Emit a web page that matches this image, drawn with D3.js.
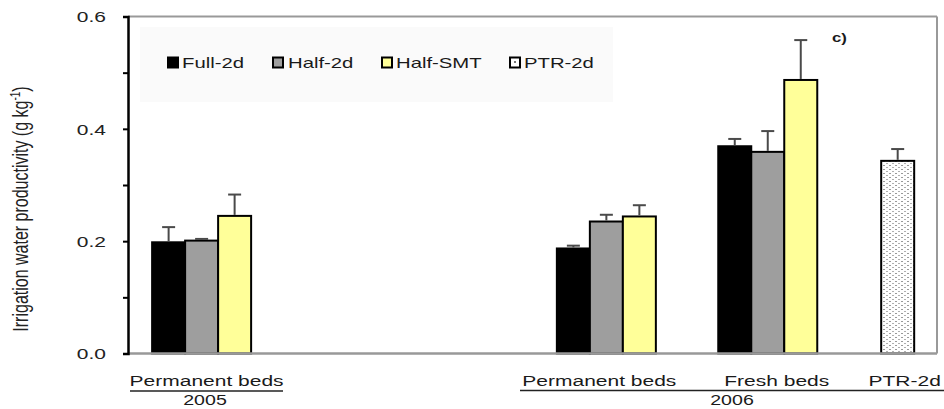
<!DOCTYPE html>
<html>
<head>
<meta charset="utf-8">
<script src="https://cdn.jsdelivr.net/npm/d3@7"></script>
<style>
  html, body { margin: 0; padding: 0; background: #fff; }
  svg { display: block; font-family: "Liberation Sans", Arial, sans-serif; }
</style>
</head>
<body>
<svg id="chart" width="944" height="409"></svg>
<script>
// ---------- data ----------
const categories = ["Permanent beds", "Permanent beds", "Fresh beds", "PTR-2d"];
const years = ["2005", "2006"];
const series = ["Full-2d", "Half-2d", "Half-SMT", "PTR-2d"];
const full2d   = [0.198, 0.187, 0.369, null];
const full2dErr = [0.027, 0.005, 0.013, null];
const half2d   = [0.201, 0.235, 0.359, null];
const half2dErr = [0.003, 0.012, 0.037, null];
const halfSMT  = [0.245, 0.244, 0.487, null];
const halfSMTErr = [0.038, 0.020, 0.071, null];
const ptr2d    = [null, null, null, 0.343];
const ptr2dErr = [null, null, null, 0.021];
const yTicks = [0, 0.1, 0.2, 0.3, 0.4, 0.5, 0.6];
const yTickLabels = ["0.0", "", "0.2", "", "0.4", "", "0.6"];

// ---------- layout ----------
const W = 944, H = 409;
const plot = { left: 128, right: 937, top: 16.5, bottom: 353.5 };
const groupPos = [0.091, 0.5913, 0.7908, 0.9514];   // relative group centres
const SX = 1.4;                                       // horizontal text stretch of the source
const colors = { "Full-2d": "#000000", "Half-2d": "#9e9e9e", "Half-SMT": "#ffff99", "PTR-2d": "url(#dots)" };

const svg = d3.select("#chart");
const defs = svg.append("defs");
const pat = defs.append("pattern").attr("id", "dots").attr("patternUnits", "userSpaceOnUse")
  .attr("width", 6).attr("height", 4);
pat.append("rect").attr("width", 6).attr("height", 4).attr("fill", "#fff");
pat.append("rect").attr("x", 1).attr("y", 1).attr("width", 2).attr("height", 1).attr("fill", "#9a9a9a");
pat.append("rect").attr("x", 4).attr("y", 3).attr("width", 2).attr("height", 1).attr("fill", "#b0b0b0");

const y = d3.scaleLinear().domain([0, 0.6]).range([plot.bottom, plot.top]);
const xg = d3.scaleLinear().domain([0, 1]).range([plot.left, plot.right]);
const barW = 33;
const inner = d3.scaleBand().domain(series.slice(0, 3)).range([-1.5 * barW, 1.5 * barW]).padding(0);

function stext(parent, x, yy, str, size, anchor, weight) {
  const g = parent.append("g").attr("transform", `translate(${x},${yy}) scale(${SX},1)`);
  return g.append("text").attr("x", 0).attr("y", 0).attr("text-anchor", anchor || "middle")
    .attr("font-size", size).attr("font-weight", weight || "normal").attr("fill", "#1a1a1a").text(str);
}

// ---------- frame ----------
svg.append("line").attr("x1", plot.left).attr("x2", plot.right).attr("y1", plot.top).attr("y2", plot.top)
  .attr("stroke", "#999").attr("stroke-width", 2);
svg.append("line").attr("x1", plot.right).attr("x2", plot.right).attr("y1", plot.top).attr("y2", plot.bottom)
  .attr("stroke", "#999").attr("stroke-width", 2);

// ---------- legend box ----------
svg.append("rect").attr("x", 140).attr("y", 27).attr("width", 473).attr("height", 75).attr("fill", "#fafafa");

// ---------- bars ----------
const seriesData = [
  { name: "Full-2d", vals: full2d, errs: full2dErr },
  { name: "Half-2d", vals: half2d, errs: half2dErr },
  { name: "Half-SMT", vals: halfSMT, errs: halfSMTErr },
  { name: "PTR-2d", vals: ptr2d, errs: ptr2dErr }
];
const bars = [];
seriesData.forEach(s => {
  s.vals.forEach((v, i) => {
    if (v == null) return;
    const cx = xg(groupPos[i]);
    const x0 = s.name === "PTR-2d" ? cx - barW / 2 : cx + inner(s.name);
    bars.push({ name: s.name, v, e: s.errs[i], x0 });
  });
});

const gBars = svg.append("g");
gBars.selectAll("rect").data(bars).join("rect")
  .attr("x", d => d.x0).attr("width", barW)
  .attr("y", d => y(d.v)).attr("height", d => y(0) - y(d.v))
  .attr("fill", d => colors[d.name]).attr("stroke", "#000").attr("stroke-width", 2);

// error bars
const gErr = svg.append("g").attr("stroke", "#4a4a4a").attr("stroke-width", 2);
gErr.selectAll("line.v").data(bars).join("line").attr("class", "v")
  .attr("x1", d => d.x0 + barW / 2).attr("x2", d => d.x0 + barW / 2)
  .attr("y1", d => y(d.v) - 1).attr("y2", d => y(d.v + d.e));
gErr.selectAll("line.c").data(bars).join("line").attr("class", "c")
  .attr("x1", d => d.x0 + barW / 2 - 6.5).attr("x2", d => d.x0 + barW / 2 + 6.5)
  .attr("y1", d => y(d.v + d.e)).attr("y2", d => y(d.v + d.e));

// bottom axis line
svg.append("line").attr("x1", plot.left).attr("x2", plot.right).attr("y1", plot.bottom).attr("y2", plot.bottom)
  .attr("stroke", "#999").attr("stroke-width", 2.5);

// ---------- y axis ----------
const yAxis = d3.axisLeft(y).tickValues(yTicks).tickSize(5).tickPadding(0)
  .tickFormat((d, i) => yTickLabels[i]);
const gy = svg.append("g").attr("transform", `translate(${plot.left},0)`).call(yAxis);
gy.select(".domain").attr("stroke", "#000").attr("stroke-width", 2.5);
gy.selectAll(".tick line").attr("stroke", "#000").attr("stroke-width", 2);
gy.selectAll(".tick text")
  .attr("x", -22 / SX).attr("dy", "0.36em")
  .attr("transform", `scale(${SX},1)`)
  .attr("font-size", 15).attr("font-family", "'Liberation Sans', Arial, sans-serif").attr("fill", "#222");

// y label
const yl = svg.append("g").attr("transform", `translate(28,209) rotate(-90) scale(1,${SX})`)
  .append("text").attr("text-anchor", "middle").attr("font-size", 16).attr("fill", "#222");
yl.append("tspan").text("Irrigation water productivity (g kg");
yl.append("tspan").attr("baseline-shift", "super").attr("font-size", 10).text("-1");
yl.append("tspan").text(")");

// ---------- legend ----------
const legendItems = [
  { name: series[0], sx: 168, tx: 182 },
  { name: series[1], sx: 273, tx: 288 },
  { name: series[2], sx: 382, tx: 396 },
  { name: series[3], sx: 510, tx: 524 }
];
const gl = svg.append("g");
legendItems.forEach(it => {
  gl.append("rect").attr("x", it.sx).attr("y", 57.5).attr("width", 10).attr("height", 10)
    .attr("fill", it.name === "PTR-2d" ? "#fff" : colors[it.name]).attr("stroke", "#000").attr("stroke-width", 2);
  if (it.name === "PTR-2d") gl.append("rect").attr("x", it.sx + 4).attr("y", 61).attr("width", 2).attr("height", 2).attr("fill", "#777");
  stext(gl, it.tx, 68, it.name, 14.5, "start");
});

// panel tag
stext(svg, 832, 42, "c)", 12, "start", "bold");

// ---------- category labels ----------
const gx = svg.append("g");
const labelDx = [5, -7, 9, 7];
categories.forEach((c, i) => {
  stext(gx, xg(groupPos[i]) + labelDx[i], 386, c, 15, "middle");
});
// 2005 underline + year
svg.append("line").attr("x1", 130).attr("x2", 283).attr("y1", 391).attr("y2", 391).attr("stroke", "#222").attr("stroke-width", 1.5);
stext(svg, 205, 405, years[0], 14, "middle");
// 2006 underline + year
svg.append("line").attr("x1", 520).attr("x2", 944).attr("y1", 390.5).attr("y2", 390.5).attr("stroke", "#222").attr("stroke-width", 1.5);
stext(svg, 732, 405, years[1], 14, "middle");
</script>
</body>
</html>
